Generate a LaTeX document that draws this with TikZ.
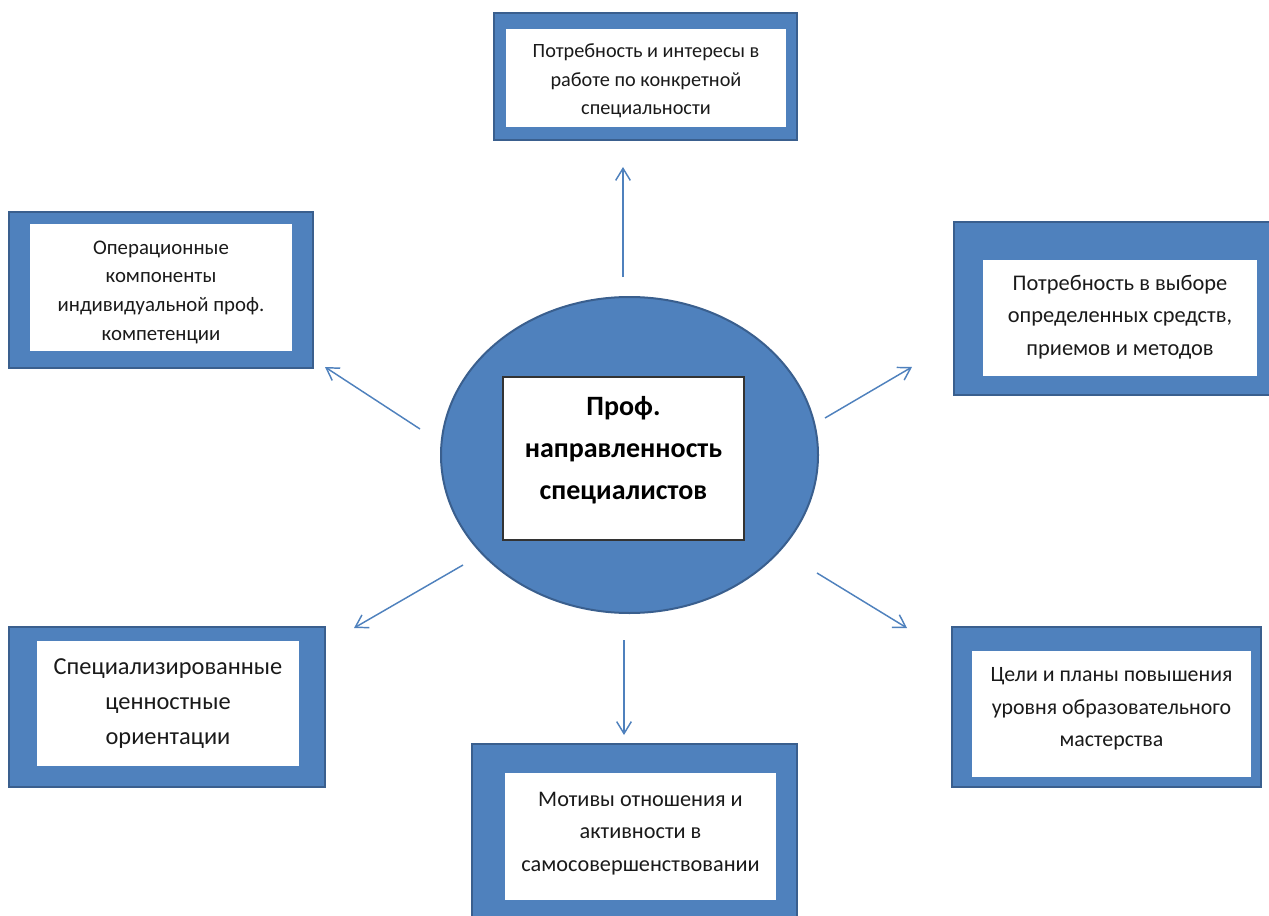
\documentclass[tikz,border=0pt]{standalone}
\usepackage{fontspec}
\setmainfont{Carlito}
\usetikzlibrary{fit,arrows.meta,shapes.geometric}
\definecolor{blfill}{HTML}{4F81BD}
\definecolor{bldark}{HTML}{3A5F8E}
\definecolor{txtc}{HTML}{1A1A1A}
\begin{document}
\begin{tikzpicture}[x=0.75pt,y=-0.75pt,
  outerbox/.style={fill=blfill,draw=bldark,line width=2.2pt,inner sep=0pt},
  innerbox/.style={fill=white,draw=none,inner sep=0pt},
  txt/.style={align=center,text=txtc,inner sep=0pt},
  arr/.style={draw=blfill,line width=1.1pt,-{Straight Barb[length=9pt,width=11pt,line width=1.1pt]}}]
\useasboundingbox (0,0) rectangle (1269,916);
% center
\node (ell) [ellipse,fill=blfill,draw=bldark,line width=1.5pt,inner sep=0pt,
  minimum width=377*0.75pt,minimum height=316*0.75pt] at (629.5,455) {};
\node (core) [fill=white,draw=black!80,line width=0.8pt,inner sep=0pt,
  fit={(503,377)(744,540)}] {};
\node (coret) [txt,text=black,font=\bfseries\fontsize{21}{31.5}\selectfont] at (623.5,450)
  {Проф.\\направленность\\специалистов};
% top
\node (top) [outerbox,fit={(494,13)(797,140)}] {};
\node (topi) [innerbox,fit={(506,29)(786,127)}] {};
\node (topt) [txt,font=\fontsize{15.2}{21.5}\selectfont] at (646,81)
  {Потребность и интересы в\\работе по конкретной\\специальности};
% left top
\node (lt) [outerbox,fit={(9,212)(313,368)}] {};
\node (lti) [innerbox,fit={(30,224)(292,351)}] {};
\node (ltt) [txt,font=\fontsize{15.6}{21.5}\selectfont] at (161,292)
  {Операционные\\компоненты\\индивидуальной проф.\\компетенции};
% right top
\node (rt) [outerbox,fit={(954,222)(1280,395)}] {};
\node (rti) [innerbox,fit={(983,260)(1257,376)}] {};
\node (rtt) [txt,font=\fontsize{16.8}{24.4}\selectfont] at (1120,317)
  {Потребность в выборе\\определенных средств,\\приемов и методов};
% left bottom
\node (lb) [outerbox,fit={(9,627)(325,787)}] {};
\node (lbi) [innerbox,fit={(37,641)(299,766)}] {};
\node (lbt) [txt,font=\fontsize{18.3}{26.3}\selectfont] at (168,703.5)
  {Специализированные\\ценностные\\ориентации};
% bottom
\node (bt) [outerbox,fit={(472,744)(797,930)}] {};
\node (bti) [innerbox,fit={(505,773)(776,900)}] {};
\node (btt) [txt,font=\fontsize{16.7}{24.4}\selectfont] at (640.5,833.5)
  {Мотивы отношения и\\активности в\\самосовершенствовании};
% right bottom
\node (rb) [outerbox,fit={(952,627)(1261,787)}] {};
\node (rbi) [innerbox,fit={(972,651)(1251,777)}] {};
\node (rbt) [txt,font=\fontsize{16.4}{24.4}\selectfont] at (1111.5,709)
  {Цели и планы повышения\\уровня образовательного\\мастерства};
% arrow ends
\coordinate (s1) at (623,277); \coordinate (e1) at (623,167);
\coordinate (s2) at (420,429); \coordinate (e2) at (325,367);
\coordinate (s3) at (825,418); \coordinate (e3) at (912,367);
\coordinate (s4) at (463,565); \coordinate (e4) at (354,628);
\coordinate (s5) at (817,573); \coordinate (e5) at (907,628);
\coordinate (s6) at (624,640); \coordinate (e6) at (624,735);
\foreach \i in {1,...,6} \draw[arr] (s\i) -- (e\i);
\end{tikzpicture}
\end{document}
